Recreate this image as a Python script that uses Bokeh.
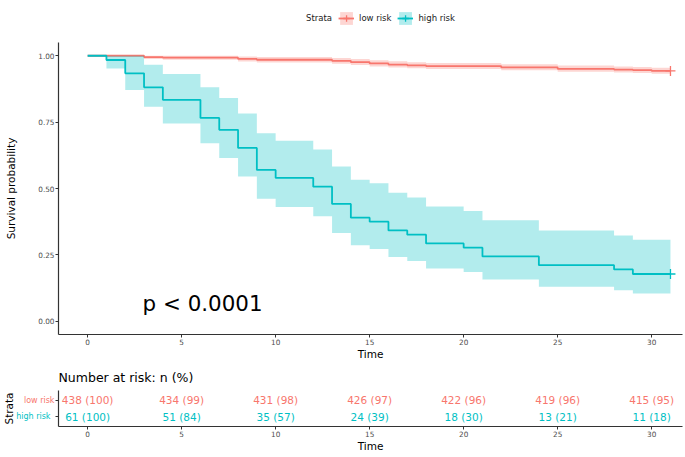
from bokeh.plotting import figure
from bokeh.models import (Range1d, FixedTicker, Legend, LegendItem, LinearAxis,
                          ColumnDataSource, NumeralTickFormatter)
from bokeh.layouts import column
from bokeh.core.properties import value
from bokeh.embed import file_html
from bokeh.resources import INLINE

RED = "#F8766D"
TEAL = "#00BFC4"
FONT = "DejaVu Sans"
AX = "#333333"
TICKLAB = "#4D4D4D"

# ---------------- data ----------------
strata = ["low risk", "high risk"]
strata_colors = [RED, TEAL]
legend_title = "Strata"
follow_up_end = 31

low_time = [0, 3, 4, 8, 9, 13, 14, 15, 16, 17, 18, 22, 25, 28, 29, 30]
low_surv = [1.0, 0.995, 0.993, 0.988, 0.985, 0.981, 0.976, 0.971, 0.967, 0.964, 0.961, 0.956, 0.951, 0.948, 0.946, 0.943]
low_lower = [1.0, 0.988, 0.985, 0.978, 0.975, 0.970, 0.965, 0.960, 0.956, 0.953, 0.950, 0.945, 0.940, 0.937, 0.935, 0.932]
low_upper = [1.0, 1.0, 1.0, 0.997, 0.995, 0.992, 0.988, 0.983, 0.979, 0.976, 0.973, 0.968, 0.963, 0.960, 0.958, 0.955]

high_time = [0, 1, 2, 3, 4, 6, 7, 8, 9, 10, 12, 13, 14, 15, 16, 17, 18, 20, 21, 24, 28, 29]
high_surv = [1.0, 0.984, 0.934, 0.881, 0.834, 0.766, 0.721, 0.653, 0.570, 0.540, 0.507, 0.442, 0.390, 0.375, 0.342, 0.326, 0.293, 0.277, 0.244, 0.211, 0.195, 0.178]
high_upper = [1.0, 1.0, 1.0, 0.966, 0.931, 0.881, 0.841, 0.783, 0.708, 0.680, 0.647, 0.583, 0.533, 0.520, 0.484, 0.466, 0.432, 0.415, 0.380, 0.342, 0.323, 0.307]
high_lower = [1.0, 0.952, 0.871, 0.808, 0.745, 0.670, 0.615, 0.545, 0.461, 0.430, 0.395, 0.332, 0.286, 0.272, 0.242, 0.227, 0.199, 0.185, 0.157, 0.130, 0.117, 0.104]

x_ticks = [0, 5, 10, 15, 20, 25, 30]
y_ticks = [0.0, 0.25, 0.5, 0.75, 1.0]

risk_times = [0, 5, 10, 15, 20, 25, 30]
risk_low_n = [438, 434, 431, 426, 422, 419, 415]
risk_low_pct = [100, 99, 98, 97, 96, 96, 95]
risk_high_n = [61, 51, 35, 24, 18, 13, 11]
risk_high_pct = [100, 84, 57, 39, 30, 21, 18]

pval_label = "p < 0.0001"

groups = [("low risk", low_time, low_surv, low_lower, low_upper, RED),
          ("high risk", high_time, high_surv, high_lower, high_upper, TEAL)]


def steps(t, vals, end):
    xs, ys = [], []
    for i in range(len(t)):
        x0 = t[i]
        x1 = t[i + 1] if i + 1 < len(t) else end
        xs += [x0, x1]
        ys += [vals[i], vals[i]]
    return xs, ys


def draw_curves(fig):
    out = {}
    for name, t, s, lo, up, col in groups:
        bx, by1 = steps(t, lo, follow_up_end)
        _, by2 = steps(t, up, follow_up_end)
        band = fig.varea(x=bx, y1=by1, y2=by2, fill_color=col, fill_alpha=0.3)
        lx, ly = steps(t, s, follow_up_end)
        ln = fig.line(x=lx, y=ly, line_color=col, line_width=1.8)
        cr = fig.scatter(x=[follow_up_end], y=[s[-1]], marker="cross", size=10,
                         line_color=col, line_width=1.3)
        out[name] = [band, ln, cr]
    return out


def style_axis(ax):
    ax.axis_line_color = AX
    ax.axis_line_width = 1.2
    ax.major_tick_line_color = AX
    ax.major_tick_out = 3
    ax.major_tick_in = 0
    ax.minor_tick_line_color = None
    ax.major_label_text_font = FONT
    ax.major_label_text_font_size = "7.3px"
    ax.major_label_text_color = TICKLAB
    ax.major_label_standoff = 1
    ax.axis_label_text_font = FONT
    ax.axis_label_text_font_size = "10.5px"
    ax.axis_label_text_font_style = "normal"
    ax.axis_label_text_color = "black"


xr = Range1d(-1.55, 31.64)

# ---------------- legend strip (curves kept out of view, only the keys show) ----------------
pl = figure(width=685, height=36, x_range=xr, y_range=Range1d(10, 11),
            output_backend="svg", toolbar_location=None,
            min_border_left=58, min_border_right=3, min_border_top=0, min_border_bottom=0)
pl.xaxis.visible = False
pl.yaxis.visible = False
pl.grid.visible = False
pl.outline_line_color = None

key_renderers = draw_curves(pl)
title_dummy = pl.scatter(x=[follow_up_end], y=[low_surv[-1]], size=1, fill_alpha=0, line_alpha=0)
items = [LegendItem(label=legend_title, renderers=[title_dummy])]
items += [LegendItem(label=k, renderers=v) for k, v in key_renderers.items()]
legend = Legend(items=items, orientation="horizontal", location="center",
                label_text_font=FONT, label_text_font_size="8.5px", label_text_color="#1a1a1a",
                glyph_width=16, glyph_height=16, label_height=16, label_standoff=5,
                padding=2, margin=0, spacing=6,
                border_line_color=None, background_fill_alpha=0)
pl.add_layout(legend)

# ---------------- main KM plot ----------------
p = figure(width=685, height=326, x_range=xr, y_range=Range1d(-0.05, 1.05),
           output_backend="svg", toolbar_location=None,
           min_border_left=58, min_border_right=3, min_border_top=6, min_border_bottom=25)
p.outline_line_color = None
p.grid.visible = False
p.background_fill_color = "white"

draw_curves(p)

p.text(x=[2.92], y=[0.0655], text=[pval_label], text_font=value(FONT), text_font_size="21.4px",
       text_align="left", text_baseline="alphabetic", text_color="black")

style_axis(p.xaxis[0])
style_axis(p.yaxis[0])
p.xaxis.ticker = FixedTicker(ticks=x_ticks)
p.xaxis.axis_label = "Time"
p.xaxis.axis_label_standoff = 0
p.yaxis.ticker = FixedTicker(ticks=y_ticks)
p.yaxis.formatter = NumeralTickFormatter(format="0.00")
p.yaxis.axis_label = "Survival probability"
p.yaxis.axis_label_standoff = 18

# ---------------- risk table ----------------
row_pos = {name: len(strata) - i for i, name in enumerate(strata)}  # low risk on top

p2 = figure(width=685, height=95, x_range=xr, y_range=Range1d(0.4, 2.6),
            output_backend="svg", toolbar_location=None,
            min_border_left=58, min_border_right=3, min_border_top=27, min_border_bottom=31)
p2.outline_line_color = None
p2.grid.visible = False
p2.title.text = "Number at risk: n (%)"
p2.title.text_font = FONT
p2.title.text_font_size = "12.5px"
p2.title.text_font_style = "normal"
p2.title.text_color = "black"
p2.title.align = "left"
p2.title.standoff = 11

rows_x, rows_y, rows_t, rows_c = [], [], [], []
for name, ns, pcts, col in [("low risk", risk_low_n, risk_low_pct, RED),
                            ("high risk", risk_high_n, risk_high_pct, TEAL)]:
    for t, n, pc in zip(risk_times, ns, pcts):
        rows_x.append(t)
        rows_y.append(row_pos[name])
        rows_t.append(f"{n} ({pc})")
        rows_c.append(col)
src = ColumnDataSource(dict(x=rows_x, y=rows_y, t=rows_t, c=rows_c))
p2.text(x="x", y="y", text="t", text_color="c", source=src, text_font=value(FONT),
        text_font_size="10.5px", text_align="center", text_baseline="middle")

style_axis(p2.xaxis[0])
p2.xaxis.ticker = FixedTicker(ticks=x_ticks)
p2.xaxis.axis_label = "Time"
p2.xaxis.axis_label_standoff = 0

# inner y axis: both tick marks, label of the first stratum (red)
ya = p2.yaxis[0]
style_axis(ya)
ya.ticker = FixedTicker(ticks=sorted(row_pos.values()))
ya.major_label_overrides = {row_pos[strata[0]]: strata[0], row_pos[strata[1]]: " "}
ya.major_label_text_color = strata_colors[0]
ya.major_label_text_font_size = "8px"
ya.major_label_standoff = 1

# outer y axis: label of the second stratum (teal), pulled back to line up
yb = LinearAxis(ticker=FixedTicker(ticks=[row_pos[strata[1]]]))
style_axis(yb)
yb.major_label_overrides = {row_pos[strata[1]]: strata[1]}
yb.major_label_text_color = strata_colors[1]
yb.major_label_text_font_size = "8px"
yb.axis_line_color = None
yb.major_tick_line_color = None
yb.major_tick_out = 0
yb.major_label_standoff = -30
yb.axis_label = "Strata"
yb.axis_label_standoff = -2
p2.add_layout(yb, "left")

layout = column(pl, p, p2, spacing=0)
open("out.html", "w").write(file_html(layout, INLINE))
